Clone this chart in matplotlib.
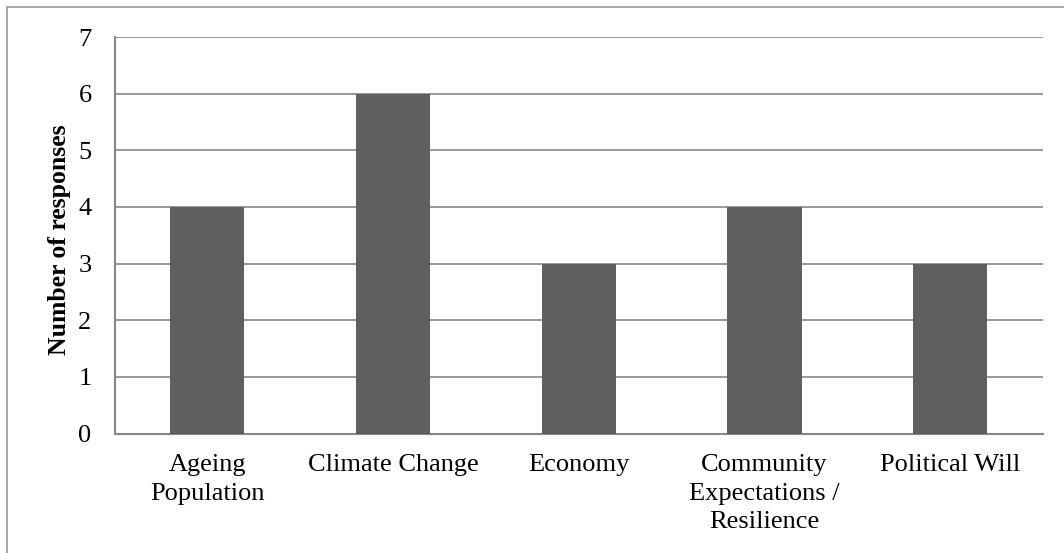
import matplotlib.pyplot as plt
from matplotlib.patches import Rectangle

# Responses per driver of change
categories = ["Ageing\nPopulation", "Climate Change", "Economy",
              "Community\nExpectations /\nResilience", "Political Will"]
responses = [4, 6, 3, 4, 3]
y_ticks = [0, 1, 2, 3, 4, 5, 6, 7]

plt.rcParams['font.family'] = ['Liberation Serif', 'DejaVu Serif']

fig = plt.figure(figsize=(10.64, 5.53), dpi=100)
ax = fig.add_axes([114.5 / 1064, 1 - 433.5 / 553, (1043 - 114.5) / 1064, (433.5 - 37) / 553])

x = range(len(categories))
ax.bar(x, responses, width=0.4, color='#5f5f5f', zorder=3)

ax.set_xlim(-0.5, len(categories) - 0.5)
ax.set_ylim(0, 7)
ax.set_yticks(y_ticks)
ax.set_yticklabels([str(v) for v in y_ticks], fontsize=19)
ax.set_xticks(list(x))
ax.set_xticklabels(categories, fontsize=19, linespacing=1.38)
ax.tick_params(axis='y', length=0, pad=16.5)
ax.tick_params(axis='x', length=0, pad=15)

ax.yaxis.grid(True, color='#878787', linewidth=1.2, zorder=0)
ax.set_axisbelow(True)
for side in ['top', 'right']:
    ax.spines[side].set_visible(False)
for side in ['left', 'bottom']:
    ax.spines[side].set_color('#878787')
    ax.spines[side].set_linewidth(1.5)

ax.set_ylabel("Number of responses", fontsize=18.5, fontweight='bold')
ax.yaxis.set_label_coords(-0.047, 0.49)

# thin frame around the chart area
fig.patches.append(Rectangle((6.5 / 1064, -0.05), 1.1, 1 - 7.5 / 553 + 0.05,
                             transform=fig.transFigure, fill=False,
                             edgecolor='#a0a0a0', linewidth=1.3))

fig.savefig("out.png", dpi=100, facecolor='white')
